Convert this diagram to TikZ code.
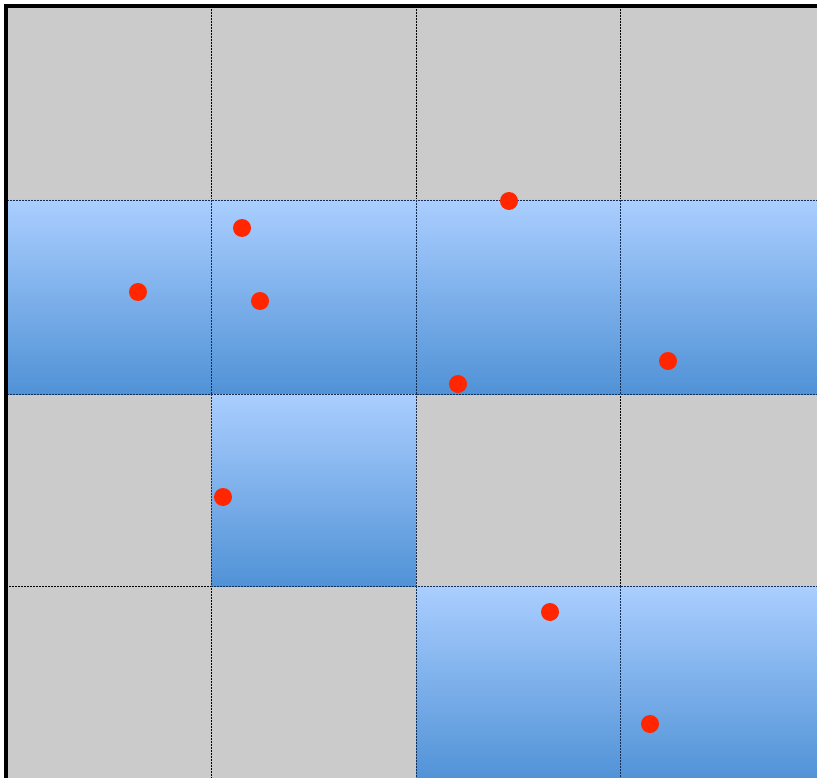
\documentclass[tikz,border=0pt]{standalone}
\begin{document}
\begin{tikzpicture}[x=1pt,y=-1pt,
  graycell/.style={fill=cellgray},
  bluecell/.style={top color=bluetop,bottom color=bluebot,draw=blueedge,line width=0.9pt,dash pattern=on 2pt off 1pt},
  gridline/.style={draw=black,line width=0.7pt,dash pattern=on 2pt off 1pt},
  dotpt/.style={circle,fill=dotred,inner sep=0pt,minimum size=18pt}]
\definecolor{cellgray}{RGB}{203,203,203}
\definecolor{bluetop}{RGB}{170,206,255}
\definecolor{bluebot}{RGB}{80,146,214}
\definecolor{blueedge}{RGB}{20,45,80}
\definecolor{dotred}{RGB}{255,38,0}
\useasboundingbox (0,0) rectangle (817,778);
\fill[cellgray] (6,6) rectangle (817,778);
% grid lines
\foreach \x in {211,416,620} \draw[gridline] (\x,6) -- (\x,778);
\foreach \y in {200,394,586} \draw[gridline] (6,\y) -- (817,\y);
% blue cells
\path[bluecell] (6,200) rectangle (211,394);
\path[bluecell] (211,200) rectangle (416,394);
\path[bluecell] (416,200) rectangle (620,394);
\path[bluecell] (620,200) rectangle (819,394);
\path[bluecell] (211,394) rectangle (416,586);
\path[bluecell] (416,586) rectangle (620,780);
\path[bluecell] (620,586) rectangle (819,780);
% border
\draw[line width=4pt] (6,778) -- (6,6) -- (817,6);
% dots
\node[dotpt] (p1) at (138,292) {};
\node[dotpt] (p2) at (242,228) {};
\node[dotpt] (p3) at (260,301) {};
\node[dotpt] (p4) at (509,201) {};
\node[dotpt] (p5) at (458,384) {};
\node[dotpt] (p6) at (668,361) {};
\node[dotpt] (p7) at (223,497) {};
\node[dotpt] (p8) at (550,612) {};
\node[dotpt] (p9) at (650,724) {};
\end{tikzpicture}
\end{document}
